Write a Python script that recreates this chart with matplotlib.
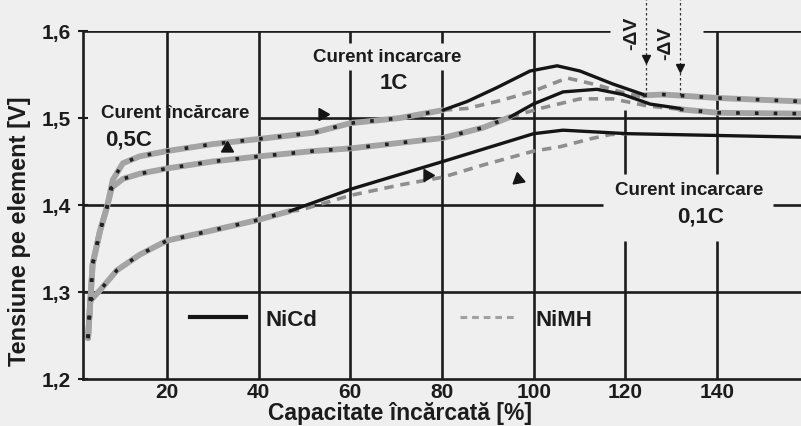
import matplotlib
matplotlib.use('Agg')
import matplotlib.pyplot as plt

plt.rcParams['font.family'] = ['Liberation Sans', 'DejaVu Sans']
plt.rcParams['font.weight'] = 'bold'

# ---------------- data ----------------
# 1C charge current
ov_head_1c_x = [2.8, 3.3, 3.8, 5.4, 6.9, 8.2, 10.4, 14.1, 20, 30, 40.2, 51.9, 60, 70.8, 80.2]
ov_head_1c_y = [1.247, 1.29, 1.332, 1.370, 1.397, 1.429, 1.448, 1.456, 1.462, 1.470, 1.476, 1.483, 1.494, 1.500, 1.509]
nicd_1c_x = [80.2, 85.5, 92, 99.2, 105.1, 110.1, 117.3, 123.9]
nicd_1c_y = [1.509, 1.519, 1.535, 1.554, 1.560, 1.554, 1.539, 1.527]
nimh_1c_x = [80.2, 85.5, 92.7, 100, 107.3, 113.8, 119, 123.9]
nimh_1c_y = [1.509, 1.511, 1.520, 1.531, 1.546, 1.538, 1.530, 1.524]
ov_tail_1c_x = [123.9, 128.2, 140.2, 158.3]
ov_tail_1c_y = [1.526, 1.527, 1.523, 1.519]

# 0.5C charge current
ov_head_05_x = [2.8, 3.3, 3.8, 5.4, 6.9, 8.0, 10.4, 14.1, 20, 30, 40.3, 51.9, 60, 80.2, 89, 94.8]
ov_head_05_y = [1.247, 1.29, 1.332, 1.370, 1.397, 1.420, 1.430, 1.436, 1.442, 1.450, 1.456, 1.462, 1.465, 1.477, 1.489, 1.501]
nicd_05_x = [94.8, 99.9, 106.4, 113.8, 119.5, 125.4, 131.9]
nicd_05_y = [1.501, 1.516, 1.530, 1.533, 1.527, 1.516, 1.511]
nimh_05_x = [94.8, 101.4, 110.1, 117.3, 124.7, 131.9]
nimh_05_y = [1.501, 1.511, 1.522, 1.522, 1.514, 1.510]
ov_tail_05_x = [131.9, 140.2, 158.3]
ov_tail_05_y = [1.510, 1.506, 1.505]

# 0.1C charge current
ov_head_01_x = [2.8, 3.3, 4.7, 5.4, 9.1, 14.1, 20, 30.9, 40, 46.8]
ov_head_01_y = [1.247, 1.29, 1.298, 1.302, 1.325, 1.343, 1.359, 1.372, 1.383, 1.393]
nicd_01_x = [46.8, 60, 80.2, 100, 106.4, 120.4, 158.3]
nicd_01_y = [1.393, 1.418, 1.450, 1.482, 1.486, 1.482, 1.478]
nimh_01_x = [46.8, 49, 60, 70.8, 80.2, 89, 100, 105.8, 112.3, 116.7, 120.4]
nimh_01_y = [1.393, 1.394, 1.411, 1.423, 1.432, 1.446, 1.462, 1.467, 1.476, 1.481, 1.482]

# arrow markers on the curves
arrow_x = [33.1, 53.8, 76.7, 96.6]
arrow_y = [1.465, 1.505, 1.435, 1.430]
arrow_angle = [0, -90, 150, -110]

# -dV detection points
dv_x = [124.5, 131.9]
dv_tip_y = [1.568, 1.557]
dv_bottom_y = [1.527, 1.527]
dv_label = ['-ΔV', '-ΔV']

x_ticks = [20, 40, 60, 80, 100, 120, 140]
x_ticklabels = ['20', '40', '60', '80', '100', '120', '140']
y_ticks = [1.2, 1.3, 1.4, 1.5, 1.6]
y_ticklabels = ['1,2', '1,3', '1,4', '1,5', '1,6']

legend_labels = ['NiCd', 'NiMH']

# ---------------- styling ----------------
BG = '#efefef'
INK = '#1c1c1c'
GRAY = '#8e8e8e'
XMIN, XMAX = 1.7, 158.3
YMIN, YMAX = 1.2, 1.6

fig = plt.figure(figsize=(8.01, 4.27), dpi=100, facecolor=BG)
ax = fig.add_axes([83 / 801, 1 - 380 / 427, 718 / 801, 348 / 427], facecolor=BG)
ax.set_xlim(XMIN, XMAX)
ax.set_ylim(YMIN, YMAX)

# grid drawn as segments (the scan has gaps where labels sit)
glw = 1.9
vseg = {20: [(YMIN, YMAX)], 40: [(YMIN, YMAX)],
        60: [(YMIN, 1.555), (1.586, YMAX)], 80: [(YMIN, 1.555), (1.586, YMAX)],
        100: [(YMIN, YMAX)],
        120: [(YMIN, 1.359), (1.436, 1.509)],
        140: [(YMIN, 1.359), (1.436, YMAX)]}
for xv, segs in vseg.items():
    for a, b in segs:
        ax.vlines(xv, a, b, color=INK, lw=glw, zorder=1)
hseg = {1.3: [(XMIN, XMAX)], 1.4: [(XMIN, 115.1), (152.2, XMAX)],
        1.5: [(40.3, XMAX)], 1.6: [(XMIN, 116.6), (136.9, XMAX)]}
for yv, segs in hseg.items():
    for a, b in segs:
        ax.hlines(yv, a, b, color=INK, lw=glw, zorder=1)

for s in ['top', 'right']:
    ax.spines[s].set_visible(False)
for s in ['left', 'bottom']:
    ax.spines[s].set_linewidth(1.9)
    ax.spines[s].set_color(INK)


def overlap(x, y):
    ax.plot(x, y, color='#a4a4a4', lw=4.2, solid_capstyle='round', zorder=3)
    ax.plot(x, y, color='#202020', lw=2.6, dashes=(1.0, 4.2), zorder=4)


def nicd(x, y):
    ax.plot(x, y, color='#151515', lw=2.4, solid_capstyle='round', zorder=4)


def nimh(x, y):
    ax.plot(x, y, color=GRAY, lw=2.6, dashes=(2.6, 1.9), zorder=3)


overlap(ov_head_1c_x, ov_head_1c_y)
nimh(nimh_1c_x, nimh_1c_y)
nicd(nicd_1c_x, nicd_1c_y)
overlap(ov_tail_1c_x, ov_tail_1c_y)

overlap(ov_head_05_x, ov_head_05_y)
nimh(nimh_05_x, nimh_05_y)
nicd(nicd_05_x, nicd_05_y)
overlap(ov_tail_05_x, ov_tail_05_y)

overlap(ov_head_01_x, ov_head_01_y)
nimh(nimh_01_x, nimh_01_y)
nicd(nicd_01_x, nicd_01_y)

for xa, ya, ang in zip(arrow_x, arrow_y, arrow_angle):
    ax.plot([xa], [ya], marker=(3, 0, ang), ms=10, color='#151515', zorder=6)

# -dV markers
for xd, yt, yb, lab in zip(dv_x, dv_tip_y, dv_bottom_y, dv_label):
    ax.vlines(xd, yb, 1.64, color='#333333', lw=0.9, linestyles=(0, (2, 2)), zorder=5, clip_on=False)
    ax.plot([xd], [yt], marker='v', ms=6, color='#151515', zorder=6, clip_on=False)
    ax.text(xd - 3.2, yt + 0.03, lab, rotation=90, ha='center', va='center',
            fontsize=14, color=INK, clip_on=False)

# labels for charge currents
ax.text(21.7, 1.5065, 'Curent încărcare', ha='center', va='center', fontsize=13.5, color=INK)
ax.text(11.7, 1.476, '0,5C', ha='center', va='center', fontsize=16, color=INK)
ax.text(68.0, 1.571, 'Curent incarcare', ha='center', va='center', fontsize=13.5, color=INK)
ax.text(69.5, 1.541, '1C', ha='center', va='center', fontsize=16, color=INK)
ax.text(133.9, 1.418, 'Curent incarcare', ha='center', va='center', fontsize=13.5, color=INK)
ax.text(136.3, 1.3875, '0,1C', ha='center', va='center', fontsize=16, color=INK)

# legend
h1, = ax.plot([], [], color='#151515', lw=3.0)
h2, = ax.plot([], [], color='#a0a0a0', lw=2.2, dashes=(2.2, 1.6))
leg = ax.legend([h1, h2], legend_labels, loc='center left', bbox_to_anchor=(0.149, 0.171),
                ncol=2, frameon=False, fontsize=16, handlelength=2.5, handletextpad=0.9,
                columnspacing=6.4, borderpad=0, borderaxespad=0)
for t in leg.get_texts():
    t.set_color(INK)

ax.set_xticks(x_ticks)
ax.set_xticklabels(x_ticklabels)
ax.set_yticks(y_ticks)
ax.set_yticklabels(y_ticklabels)
ax.tick_params(axis='x', length=0, pad=2, labelsize=15, labelcolor=INK)
ax.tick_params(axis='y', length=7, width=1.5, direction='inout', pad=5, labelsize=15,
               labelcolor=INK, color=INK)

fig.text(20 / 801, 1 - 231 / 427, 'Tensiune pe element [V]', rotation=90,
         ha='center', va='center', fontsize=17, color=INK)
fig.text(400 / 801, 2 / 427, 'Capacitate încărcată [%]', ha='center', va='bottom',
         fontsize=16.5, color=INK)

fig.savefig('out.png', dpi=100, facecolor=BG)
